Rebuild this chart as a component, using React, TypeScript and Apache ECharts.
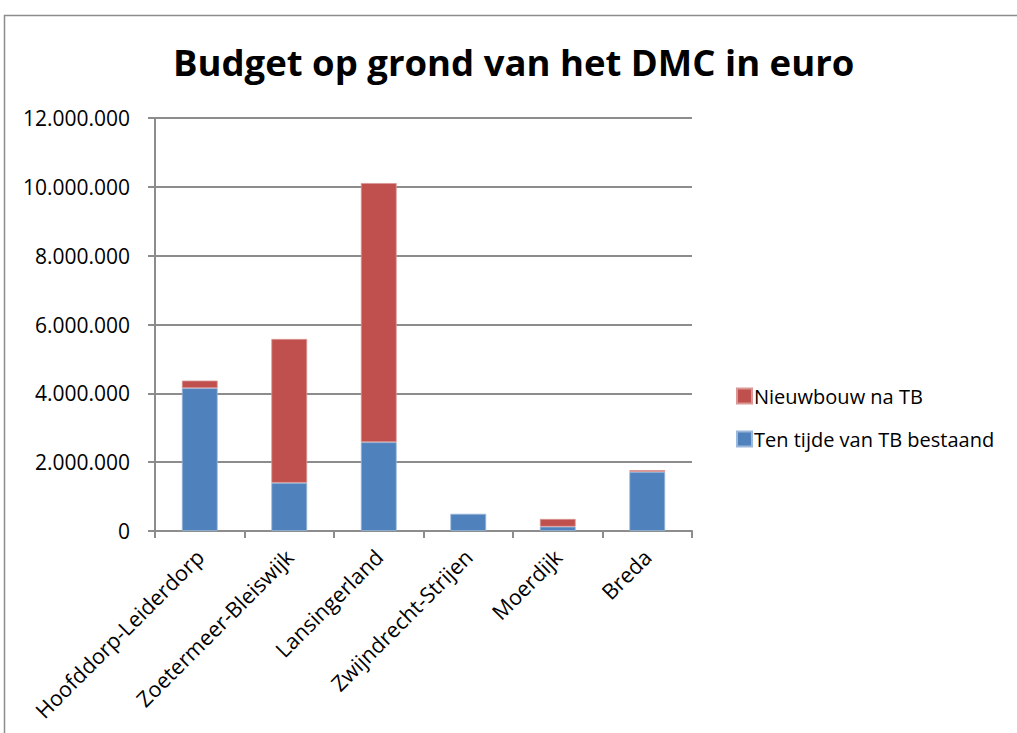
import React, { useEffect, useRef } from "react";
import * as echarts from "echarts";

const categories = [
  "Hoofddorp-Leiderdorp",
  "Zoetermeer-Bleiswijk",
  "Lansingerland",
  "Zwijndrecht-Strijen",
  "Moerdijk",
  "Breda",
];
const bestaand = [4150000, 1400000, 2580000, 500000, 125000, 1720000];
const nieuwbouw = [220000, 4180000, 7530000, 0, 225000, 50000];
const seriesNames = ["Ten tijde van TB bestaand", "Nieuwbouw na TB"];
const title = "Budget op grond van het DMC in euro";

const fmt = (v: number) => String(Math.round(v)).replace(/\B(?=(\d{3})+(?!\d))/g, ".");

export default function App() {
  const ref = useRef<HTMLDivElement>(null);
  useEffect(() => {
    const chart = echarts.init(ref.current!, null, { renderer: "svg" });
    const font = "Open Sans";
    chart.setOption({
      animation: false,
      backgroundColor: "#ffffff",
      textStyle: { fontFamily: font },
      title: {
        text: title,
        left: 173,
        top: 43,
        textStyle: { fontFamily: font, fontWeight: "bold", fontSize: 36.5, color: "#000" },
        padding: 0,
      },
      graphic: [
        {
          type: "rect",
          shape: { x: 4.5, y: 15.5, width: 1100, height: 800 },
          style: { fill: "none", stroke: "#8c8c8c", lineWidth: 1.5 },
          silent: true,
        },
      ],
      legend: {
        orient: "vertical",
        left: 731,
        top: 381,
        itemWidth: 15,
        itemHeight: 15,
        itemGap: 23,
        data: [seriesNames[1], seriesNames[0]],
        textStyle: { fontFamily: font, fontSize: 20, color: "#000", padding: [0, 0, 0, -3] },
        icon: "rect",
      },
      grid: { left: 155, top: 118, right: 325, bottom: 202, containLabel: false },
      xAxis: {
        type: "category",
        data: categories,
        axisLine: { lineStyle: { color: "#8c8c8c", width: 2 } },
        axisTick: { show: true, length: 7, lineStyle: { color: "#8c8c8c", width: 2 } },
        axisLabel: {
          rotate: 45,
          interval: 0,
          margin: 22,
          fontFamily: font,
          fontSize: 21.5,
          color: "#000",
        },
      },
      yAxis: {
        type: "value",
        min: 0,
        max: 12000000,
        interval: 2000000,
        axisLine: { show: true, lineStyle: { color: "#8c8c8c", width: 2 } },
        axisTick: { show: true, length: 7, lineStyle: { color: "#8c8c8c", width: 2 } },
        splitLine: { lineStyle: { color: "#8c8c8c", width: 2 } },
        axisLabel: {
          margin: 25,
          fontFamily: font,
          fontSize: 21,
          color: "#000",
          formatter: (v: number) => fmt(v),
        },
      },
      series: [
        {
          name: seriesNames[0],
          type: "bar",
          stack: "total",
          data: bestaand,
          barWidth: "40%",
          itemStyle: { color: "#4F81BD", borderColor: "#9bb7d9", borderWidth: 0.8 },
        },
        {
          name: seriesNames[1],
          type: "bar",
          stack: "total",
          data: nieuwbouw.map((v) => (v === 0 ? null : v)),
          barWidth: "40%",
          itemStyle: { color: "#C0504D", borderColor: "#d99795", borderWidth: 0.8 },
        },
      ],
    });
    return () => chart.dispose();
  }, []);
  return (
    <div
      ref={ref}
      style={{ position: "fixed", left: 0, top: 0, width: 1017, height: 733 }}
    />
  );
}
